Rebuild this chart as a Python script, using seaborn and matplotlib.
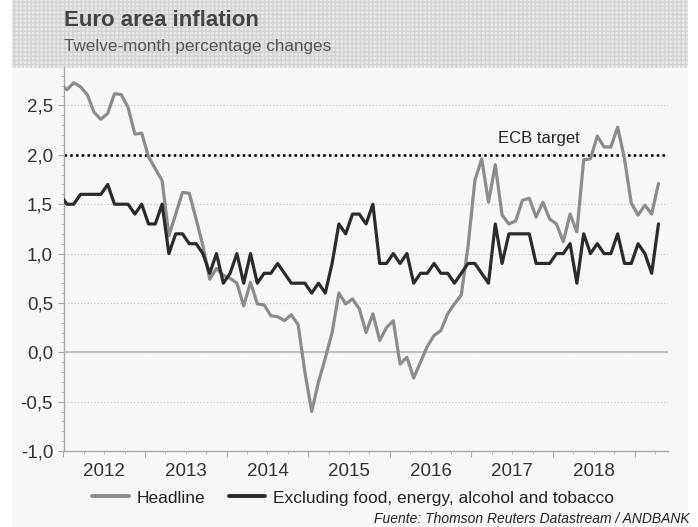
import pandas as pd
import matplotlib
matplotlib.use('Agg')
import matplotlib.pyplot as plt
import seaborn as sns
from matplotlib.patches import Rectangle
from matplotlib.lines import Line2D
from matplotlib.ticker import FixedLocator, FixedFormatter, MultipleLocator, FuncFormatter

# monthly data, Dec 2011 .. Apr 2019 (first point sits just left of the axis)
months = pd.period_range('2011-12', '2019-04', freq='M')

headline = [2.72,
            2.66, 2.73, 2.69, 2.61, 2.43, 2.36, 2.42, 2.62, 2.61, 2.48, 2.21, 2.22,
            1.98, 1.86, 1.74, 1.18, 1.40, 1.62, 1.61, 1.35, 1.08, 0.74, 0.85, 0.78,
            0.75, 0.70, 0.47, 0.71, 0.49, 0.48, 0.37, 0.36, 0.32, 0.38, 0.28, -0.20,
            -0.60, -0.30, -0.06, 0.20, 0.60, 0.49, 0.54, 0.44, 0.20, 0.39, 0.12, 0.25,
            0.32, -0.12, -0.05, -0.26, -0.10, 0.06, 0.17, 0.22, 0.39, 0.49, 0.58, 1.08,
            1.74, 1.96, 1.52, 1.90, 1.39, 1.30, 1.33, 1.54, 1.56, 1.37, 1.52, 1.35,
            1.30, 1.12, 1.40, 1.22, 1.95, 1.96, 2.19, 2.08, 2.08, 2.28, 1.96, 1.51,
            1.39, 1.49, 1.40, 1.71]

core = [1.6,
        1.5, 1.5, 1.6, 1.6, 1.6, 1.6, 1.7, 1.5, 1.5, 1.5, 1.4, 1.5,
        1.3, 1.3, 1.5, 1.0, 1.2, 1.2, 1.1, 1.1, 1.0, 0.8, 1.0, 0.7,
        0.8, 1.0, 0.7, 1.0, 0.7, 0.8, 0.8, 0.9, 0.8, 0.7, 0.7, 0.7,
        0.6, 0.7, 0.6, 0.9, 1.3, 1.2, 1.4, 1.4, 1.3, 1.5, 0.9, 0.9,
        1.0, 0.9, 1.0, 0.7, 0.8, 0.8, 0.9, 0.8, 0.8, 0.7, 0.8, 0.9,
        0.9, 0.8, 0.7, 1.3, 0.9, 1.2, 1.2, 1.2, 1.2, 0.9, 0.9, 0.9,
        1.0, 1.0, 1.1, 0.7, 1.2, 1.0, 1.1, 1.0, 1.0, 1.2, 0.9, 0.9,
        1.1, 1.0, 0.8, 1.3]

years = ['2012', '2013', '2014', '2015', '2016', '2017', '2018']
series_names = ['Headline', 'Excluding food, energy, alcohol and tobacco']
series_colors = ['#8c8c8c', '#2b2b2b']
ecb_target = 2.0

# month index, Jan 2012 = 0
xpos = [(m.year - 2012) * 12 + m.month - 1 for m in months]
df = pd.DataFrame({
    'x': xpos * 2,
    'value': headline + core,
    'series': [series_names[0]] * len(xpos) + [series_names[1]] * len(xpos),
})

sns.set_theme(style='white')
plt.rcParams['font.family'] = ['Liberation Sans', 'DejaVu Sans']

fig = plt.figure(figsize=(6.98, 5.27), dpi=100, facecolor='white')

# panel background and textured header band
fig.patches.append(Rectangle((12 / 698, 0), 676 / 698, 1, transform=fig.transFigure,
                             facecolor='#f7f7f7', edgecolor='none', zorder=-10))
fig.patches.append(Rectangle((12 / 698, 1 - 68 / 527), 676 / 698, 68 / 527,
                             transform=fig.transFigure, facecolor='#e8e8e8',
                             edgecolor='#d2d2d2', hatch='++++', lw=0, zorder=-9))

fig.text(64 / 698, 1 - 21 / 527, 'Euro area inflation', fontsize=16, fontweight='bold',
         color='#444444', va='center')
fig.text(64 / 698, 1 - 47 / 527, 'Twelve-month percentage changes', fontsize=12.3,
         color='#555555', va='center')

ax = fig.add_axes([63.5 / 698, 1 - 451 / 527, (668 - 63.5) / 698, (451 - 67) / 527])
ax.set_facecolor('none')

sns.lineplot(data=df, x='x', y='value', hue='series',
             palette=dict(zip(series_names, series_colors)),
             linewidth=2.3, ax=ax, legend=False, zorder=3)

ax.axhline(0, color='#c2c2c2', lw=1.5, zorder=1)
ax.axhline(ecb_target, color='black', lw=1.8, ls=(0, (1, 1.3)), zorder=2)
ax.text(63.4, 2.17, 'ECB target', fontsize=12, color='#222222', va='center', ha='left')

ax.set_xlim(-0.5, 88.4)
ax.set_ylim(-1.0, 2.89)

# y axis
ax.yaxis.set_major_locator(MultipleLocator(0.5))
ax.yaxis.set_minor_locator(MultipleLocator(0.1))
ax.yaxis.set_major_formatter(FuncFormatter(lambda v, p: f'{v:.1f}'.replace('.', ',')))
ax.yaxis.grid(True, which='major', ls=':', color='#c8c8c8', lw=0.9)

# x axis: year boundaries as major ticks, quarters as minor ticks with year labels mid-year
ax.xaxis.remove_overlapping_locs = False
ax.xaxis.set_major_locator(FixedLocator([-0.5 + 12 * k for k in range(8)]))
ax.xaxis.set_major_formatter(FixedFormatter([''] * 8))
quarters = [-0.5 + 3 * k for k in range(30)]
ax.xaxis.set_minor_locator(FixedLocator(quarters))
qlabels = []
for k in range(30):
    if k % 4 == 2 and k // 4 < len(years):
        qlabels.append(years[k // 4])
    else:
        qlabels.append('')
ax.xaxis.set_minor_formatter(FixedFormatter(qlabels))

ax.set_xlabel('')
ax.set_ylabel('')
for s in ['top', 'right']:
    ax.spines[s].set_visible(False)
for s in ['left', 'bottom']:
    ax.spines[s].set_color('#a8a8a8')
    ax.spines[s].set_linewidth(1.0)

ax.tick_params(axis='y', which='major', direction='out', length=4, width=0.8, color='#a8a8a8',
               labelsize=13.5, labelcolor='#333333', pad=3.5, left=True)
ax.tick_params(axis='y', which='minor', direction='out', length=2.5, width=0.6, color='#b0b0b0', left=True)
ax.tick_params(axis='x', which='major', direction='out', length=4, width=0.8, color='#a8a8a8', bottom=True)
ax.tick_params(axis='x', which='minor', direction='out', length=2.5, width=0.6, color='#b0b0b0',
               labelsize=13.5, labelcolor='#333333', pad=6, bottom=True)

handles = [Line2D([], [], color=c, lw=2.8) for c in series_colors]
ax.legend(handles, series_names, loc='center', bbox_to_anchor=(353 / 698, 1 - 498 / 527),
          bbox_transform=fig.transFigure, ncol=2, frameon=False, fontsize=12.5,
          handlelength=2.1, handletextpad=0.45, columnspacing=1.35, labelcolor='#222222')

fig.text(690 / 698, 1 - 519 / 527, 'Fuente: Thomson Reuters Datastream / ANDBANK',
         ha='right', va='center', fontsize=10, style='italic', color='#222222')

plt.savefig('out.png', dpi=100, facecolor=fig.get_facecolor())
